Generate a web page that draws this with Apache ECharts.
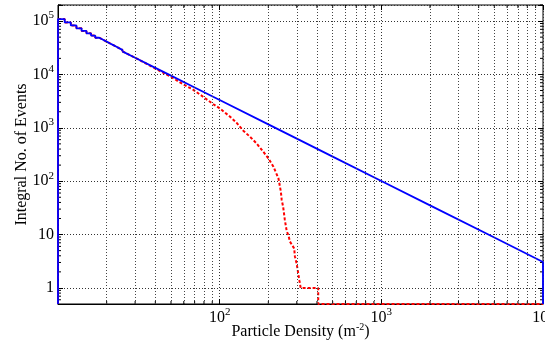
<!DOCTYPE html>
<html><head><meta charset="utf-8">
<script src="https://cdn.jsdelivr.net/npm/echarts@6/dist/echarts.min.js"></script>
<style>html,body{margin:0;padding:0;background:#fff}#c{width:545px;height:343px}</style>
</head><body><div id="c"></div>
<script>
// Axis ranges (log scales)
const X_MIN = 10, X_MAX = 10000;
const Y_MIN = 0.5, Y_MAX = 200000;
const FLOOR = 0.5; // zero counts drawn at the axis floor

// Shared histogram steps at low density (bins of 1 m^-2)
const stepX = [10, 10, 11, 12, 13, 14, 15, 16, 17, 18, 19, 20, 21, 22, 23, 24, 25];
const stepY = [FLOOR, 109000, 94300, 82700, 73200, 65400, 58900, 53400, 48700, 44700, 41200, 38100, 35400, 33000, 30800, 28900, 27100];

// Blue series (solid) beyond the step region
const blueX = [25, 30, 40, 50, 70, 100, 200, 300, 500, 1000, 2000, 5000, 10000, 10000];
const blueY = [27100, 20600, 13300, 9480, 5690, 3310, 1160, 626, 289, 101, 35.2, 8.8, 3.07, FLOOR];

// Red series (dashed) beyond the step region
const redX = [25, 30, 40, 50, 59, 68, 79, 91, 100, 116, 127, 140, 154, 169, 186, 200, 215, 231, 239, 242, 247, 253, 260, 266, 272, 289, 292, 299, 306, 311, 317, 407, 407, 10000];
const redY = [27100, 20600, 12900, 9000, 6610, 5260, 3820, 2790, 2320, 1610, 1250, 883, 681, 512, 357, 268, 187, 113, 64, 44.5, 33, 18.8, 11.5, 9.8, 7.4, 5.5, 3.9, 2.9, 1.9, 1.4, 1, 1, FLOOR, FLOOR];

// Minor tick / grid positions
const xMinor = [20, 30, 40, 50, 60, 70, 80, 90, 200, 300, 400, 500, 600, 700, 800, 900, 2000, 3000, 4000, 5000, 6000, 7000, 8000, 9000];
const yMinor = [0.6, 0.7, 0.8, 0.9, 2, 3, 4, 5, 6, 7, 8, 9, 20, 30, 40, 50, 60, 70, 80, 90, 200, 300, 400, 500, 600, 700, 800, 900, 2000, 3000, 4000, 5000, 6000, 7000, 8000, 9000, 20000, 30000, 40000, 50000, 60000, 70000, 80000, 90000, 200000];

const FONT = "'Liberation Serif', 'Times New Roman', serif";
const pairs = (xs, ys) => xs.map((x, i) => [x, ys[i]]);

function powLabel(v, hideTen) {
  const l = Math.log10(v);
  const e = Math.round(l);
  if (Math.abs(l - e) > 1e-6) return '';
  if (e === 0) return '1';
  if (e === 1) return hideTen ? '' : '10';
  return '10{sup|' + e + '}';
}
const rich = {
  sup: { fontSize: 11, fontFamily: FONT, color: '#000', padding: [0, 0, 11, 0] }
};

const chart = echarts.init(document.getElementById('c'), null, { renderer: 'canvas' });
const gridLine = { color: '#333', width: 1, type: [1, 2] };

chart.setOption({
  animation: false,
  backgroundColor: '#fff',
  grid: { left: 58, right: 2, top: 5, bottom: 39, show: true, borderColor: '#000', borderWidth: 1,
          backgroundColor: 'transparent', containLabel: false, outerBoundsMode: 'none' },
  xAxis: [{
    type: 'log', logBase: 10, min: X_MIN, max: X_MAX,
    name: 'Particle Density (m{sup|-2})', nameLocation: 'middle', nameGap: 18, nameMoveOverlap: false,
    nameTextStyle: { fontFamily: FONT, fontSize: 16, color: '#000', rich: { sup: { fontSize: 10, fontFamily: FONT, color: '#000', padding: [0, 0, 10, 0] } } },
    axisLine: { show: true, lineStyle: { color: '#000', width: 1 } },
    axisTick: { show: true, inside: true, length: 5, lineStyle: { color: '#000' } },
    axisLabel: { formatter: v => powLabel(v, true), fontFamily: FONT, fontSize: 16, color: '#000', margin: 3, rich, showMinLabel: true, showMaxLabel: true, hideOverlap: false },
    splitLine: { show: true, lineStyle: gridLine },
    minorTick: { show: false }
  }, {
    type: 'log', logBase: 10, min: X_MIN, max: X_MAX, position: 'top',
    axisLine: { show: false }, axisLabel: { show: false }, splitLine: { show: false },
    axisTick: { show: true, inside: true, length: 5, lineStyle: { color: '#000' } }
  }],
  yAxis: [{
    type: 'log', logBase: 10, min: Y_MIN, max: Y_MAX,
    name: 'Integral No. of Events', nameLocation: 'middle', nameGap: 28, nameRotate: 90, nameMoveOverlap: false,
    nameTextStyle: { fontFamily: FONT, fontSize: 16, color: '#000' },
    axisLine: { show: true, lineStyle: { color: '#000', width: 1 } },
    axisTick: { show: true, inside: true, length: 5, lineStyle: { color: '#000' } },
    axisLabel: { formatter: v => powLabel(v, false), fontFamily: FONT, fontSize: 16, color: '#000', margin: 4, rich, hideOverlap: false },
    splitLine: { show: true, lineStyle: gridLine }
  }, {
    type: 'log', logBase: 10, min: Y_MIN, max: Y_MAX, position: 'right',
    axisLine: { show: false }, axisLabel: { show: false }, splitLine: { show: false },
    axisTick: { show: true, inside: true, length: 5, lineStyle: { color: '#000' } }
  }],
  series: [
    {
      type: 'custom', name: 'xminor', z: 1, silent: true, clip: false,
      data: xMinor.map(v => [v, Y_MIN]), encode: { x: 0, y: 1 },
      renderItem: (params, api) => {
        const v = api.value(0);
        const b = api.coord([v, Y_MIN]), t = api.coord([v, Y_MAX]);
        return { type: 'group', children: [
          { type: 'line', shape: { x1: b[0], y1: b[1], x2: b[0], y2: b[1] - 3 }, style: { stroke: '#000', lineWidth: 1 } },
          { type: 'line', shape: { x1: t[0], y1: t[1], x2: t[0], y2: t[1] + 3 }, style: { stroke: '#000', lineWidth: 1 } }
        ] };
      },
      markLine: {
        silent: true, symbol: ['none', 'none'], label: { show: false },
        lineStyle: { color: '#444', width: 1, type: [1, 2] },
        data: xMinor.map(v => ({ xAxis: v }))
      }
    },
    {
      type: 'custom', name: 'yminor', z: 1, silent: true, clip: false,
      data: yMinor.map(v => [X_MIN, v]), encode: { x: 0, y: 1 },
      renderItem: (params, api) => {
        const v = api.value(1);
        const l = api.coord([X_MIN, v]), r = api.coord([X_MAX, v]);
        return { type: 'group', children: [
          { type: 'line', shape: { x1: l[0], y1: l[1], x2: l[0] + 3, y2: l[1] }, style: { stroke: '#000', lineWidth: 1 } },
          { type: 'line', shape: { x1: r[0], y1: r[1], x2: r[0] - 3, y2: r[1] }, style: { stroke: '#000', lineWidth: 1 } }
        ] };
      }
    },
    {
      type: 'line', name: 'red-steps', z: 3, step: 'end', showSymbol: false, symbol: 'none',
      data: pairs(stepX, stepY), lineStyle: { color: '#ff0000', width: 2, type: [3, 2] }
    },
    {
      type: 'line', name: 'red', z: 3, showSymbol: false, symbol: 'none',
      data: pairs(redX, redY), lineStyle: { color: '#ff0000', width: 2, type: [3, 2] }
    },
    {
      type: 'line', name: 'blue-steps', z: 4, step: 'end', showSymbol: false, symbol: 'none',
      data: pairs(stepX, stepY), lineStyle: { color: '#0000ff', width: 1.8 }
    },
    {
      type: 'line', name: 'blue', z: 4, showSymbol: false, symbol: 'none',
      data: pairs(blueX, blueY), lineStyle: { color: '#0000ff', width: 1.8 }
    }
  ]
});
</script>
</body></html>
